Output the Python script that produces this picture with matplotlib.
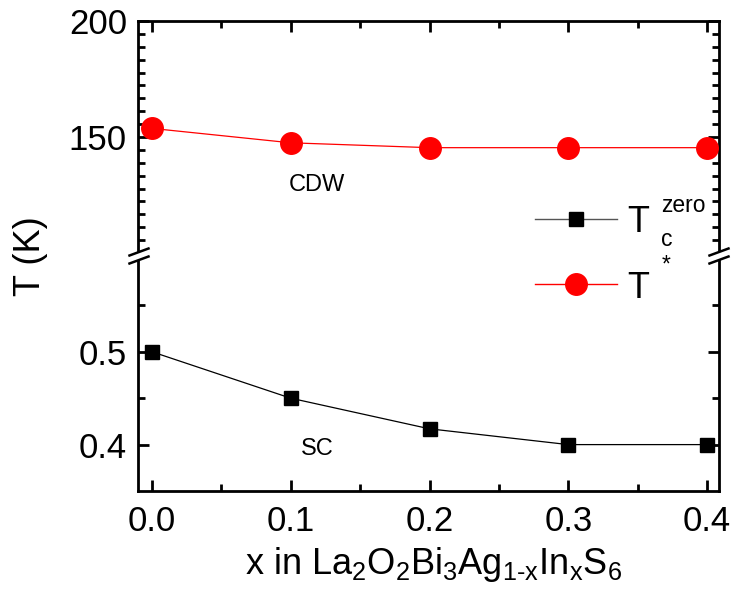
import matplotlib
matplotlib.use("Agg")
import matplotlib.pyplot as plt
from matplotlib.lines import Line2D
from matplotlib.patches import Polygon
import numpy as np

plt.rcParams['font.family'] = ['Liberation Sans', 'DejaVu Sans']
plt.rcParams['mathtext.fontset'] = 'custom'
plt.rcParams['mathtext.rm'] = 'Liberation Sans'
plt.rcParams['mathtext.it'] = 'Liberation Sans'
plt.rcParams['mathtext.bf'] = 'Liberation Sans:bold'

# ---- data ----
x_vals = [0.0, 0.1, 0.2, 0.3, 0.4]
t_star = [153.7, 147.5, 145.4, 145.4, 145.4]
tc_zero = [0.50, 0.45, 0.417, 0.40, 0.40]
x_ticks = [0.0, 0.1, 0.2, 0.3, 0.4]
x_ticklabels = ['0.0', '0.1', '0.2', '0.3', '0.4']
upper_ticks = [150, 200]
lower_ticks = [0.4, 0.5]
lower_ticklabels = ['0.4', '0.5']

W, H = 731, 589
fig = plt.figure(figsize=(W / 100, H / 100), dpi=100)

def fx(px):
    return px / W

def fy(py):
    return 1 - py / H

L, R = 138, 719
TOP, UB, LT, BOT = 21, 253, 259, 491
ax_top = fig.add_axes([fx(L), fy(UB), fx(R) - fx(L), (UB - TOP) / H])
ax_bot = fig.add_axes([fx(L), fy(BOT), fx(R) - fx(L), (BOT - LT) / H])

xlim = (-0.0101, 0.4086)
for ax in (ax_top, ax_bot):
    ax.set_xlim(*xlim)
    for s in ax.spines.values():
        s.set_linewidth(2.0)
    ax.set_xticks(x_ticks)
    ax.set_xticks([0.05, 0.15, 0.25, 0.35], minor=True)
    ax.tick_params(which='major', direction='in', length=8, width=2, labelsize=25)
    ax.tick_params(which='minor', direction='in', length=5, width=2)

ax_top.spines['bottom'].set_visible(False)
ax_bot.spines['top'].set_visible(False)

ax_top.set_ylim(100, 200)
ax_top.set_yticks(upper_ticks)
ax_top.set_yticklabels([str(t) for t in upper_ticks])
minor_up = [100 + k * 50 / 9 for k in range(1, 9)] + [150 + k * 50 / 9 for k in range(1, 9)]
ax_top.set_yticks(minor_up, minor=True)
ax_top.tick_params(which='both', top=True, bottom=False, right=True, left=True,
                   labelbottom=False)
ax_top.tick_params(axis='y', which='major', pad=8)

ax_bot.set_ylim(0.35, 0.60)
ax_bot.set_yticks(lower_ticks)
ax_bot.set_yticklabels(lower_ticklabels)
ax_bot.set_yticks([0.45, 0.55], minor=True)
ax_bot.set_xticklabels(x_ticklabels)
ax_bot.tick_params(which='both', top=False, bottom=True, right=True, left=True)
ax_bot.tick_params(axis='y', which='major', pad=8)
ax_bot.tick_params(axis='x', which='major', pad=10)

# data
ax_top.plot(x_vals, t_star, '-o', color='red', lw=0.9, ms=15.5, mec='red',
            clip_on=False, zorder=5)
ax_bot.plot(x_vals, tc_zero, '-s', color='black', lw=0.9, ms=10.5,
            clip_on=False, zorder=5)

ax_top.text(0.119, 129.5, 'CDW', fontsize=17, ha='center', va='center')
ax_bot.text(0.119, 0.3953, 'SC', fontsize=17, ha='center', va='center')

fig.text(fx(434), fy(574), r'x in La$_2$O$_2$Bi$_3$Ag$_{1\text{-}x}$In$_x$S$_6$',
         fontsize=26, ha='center', va='baseline')
fig.text(fx(30), fy(256), 'T (K)', rotation=90, fontsize=26, ha='center', va='center')

# break marks
for sx in (L + 1, R):
    dx, dy = 9.5, 3.5
    c1 = 252
    c2 = 260
    poly = Polygon([(fx(sx - dx), fy(c1 + dy)), (fx(sx + dx), fy(c1 - dy)),
                    (fx(sx + dx), fy(c2 - dy)), (fx(sx - dx), fy(c2 + dy))],
                   closed=True, transform=fig.transFigure, facecolor='white',
                   edgecolor='none', zorder=10)
    fig.add_artist(poly)
    for c in (c1, c2):
        fig.add_artist(Line2D([fx(sx - dx), fx(sx + dx)], [fy(c + dy), fy(c - dy)],
                              transform=fig.transFigure, color='black', lw=1.8,
                              zorder=11))

# legend (manual)
ly1, ly2 = 219, 284
for ly, col, mk, ms in ((ly1, 'black', 's', 10.5), (ly2, 'red', 'o', 15.5)):
    fig.add_artist(Line2D([fx(535), fx(617)], [fy(ly), fy(ly)], transform=fig.transFigure,
                          color=col if col == 'red' else '#555555', lw=1.0, zorder=12))
    fig.add_artist(Line2D([fx(576)], [fy(ly)], transform=fig.transFigure, color=col,
                          marker=mk, ms=ms, mec=col, lw=0, zorder=13))
fig.text(fx(627), fy(232), 'T', fontsize=26, ha='left', va='baseline')
fig.text(fx(661), fy(212), 'zero', fontsize=16.5, ha='left', va='baseline')
fig.text(fx(661), fy(246), 'c', fontsize=16.5, ha='left', va='baseline')
fig.text(fx(627), fy(298), 'T', fontsize=26, ha='left', va='baseline')
fig.text(fx(662), fy(272), '*', fontsize=16.5, ha='left', va='baseline')

fig.savefig('out.png', dpi=100)
